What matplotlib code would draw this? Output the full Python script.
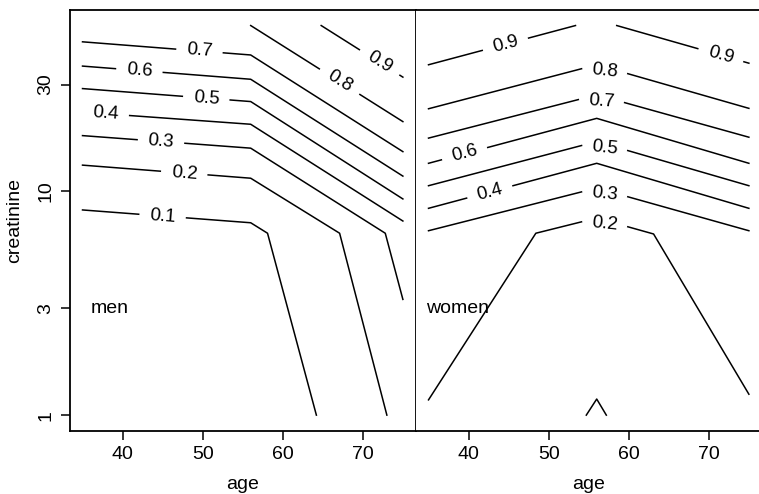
import numpy as np
import matplotlib
matplotlib.use("Agg")
import matplotlib.pyplot as plt

plt.rcParams["font.family"] = ["Liberation Sans", "DejaVu Sans"]

# ─── Contour lines (age, creatinine) ─────────────────────────────────────────
men_levels = ["0.1", "0.2", "0.3", "0.4", "0.5", "0.6", "0.7", "0.8", "0.9"]
men_ages = [
    [35, 56, 58.1, 64.2],
    [35, 56, 67.1, 73.0],
    [35, 56, 72.8, 75],
    [35, 56, 75],
    [35, 56, 75],
    [35, 56, 75],
    [35, 56, 75],
    [56, 75],
    [64.8, 75],
]
men_creat = [
    [8.26, 7.24, 6.5, 1.0],
    [13.1, 11.45, 6.5, 1.0],
    [17.75, 15.6, 6.5, 3.29],
    [22.6, 19.95, 7.37],
    [28.8, 25.2, 9.25],
    [36.3, 31.7, 11.7],
    [46.6, 40.7, 15.05],
    [55.1, 20.5],
    [55.1, 32.4],
]
men_label_age = [45.0, 47.7, 44.8, 37.9, 50.45, 42.1, 49.6, 67.1, 72.1]

women_levels = ["0.9", "0.9", "0.8", "0.7", "0.6", "0.5", "0.4", "0.3", "0.2", ""]
women_ages = [
    [35, 53.35],
    [58.5, 75],
    [35, 56, 75],
    [35, 56, 75],
    [35, 56, 75],
    [35, 56, 75],
    [35, 56, 75],
    [35, 56, 75],
    [35, 48.4, 56, 63.1, 75],
    [54.7, 56, 57.2],
]
women_creat = [
    [36.8, 55.1],
    [55.1, 37.4],
    [23.4, 36.8, 23.5],
    [17.3, 27.0, 17.46],
    [13.35, 21.2, 13.35],
    [10.6, 16.7, 10.6],
    [8.4, 13.35, 8.4],
    [6.67, 10.35, 6.67],
    [1.17, 6.5, 7.6, 6.45, 1.24],
    [1.0, 1.18, 1.0],
]
women_label_age = [44.6, 71.5, 57.0, 56.6, 39.5, 57.0, 42.65, 57.0, 57.0, None]

x_ticks = [40, 50, 60, 70]
y_ticks = [1, 3, 10, 30]

# ─── Figure ──────────────────────────────────────────────────────────────────
W, H = 759, 494
fig = plt.figure(figsize=(W / 100, H / 100), dpi=100)
ax1 = fig.add_axes([69.7 / W, 63.3 / H, 346 / W, 420.7 / H])
ax2 = fig.add_axes([415.7 / W, 63.3 / H, 346 / W, 420.7 / H])

tick_fs = 14
lab_fs = 13.5
gap_px = 48
lw = 1.1


def contour_line(ax, xs, ys, lab_x, text):
    """Draw a contour polyline with an R-style gap and rotated label."""
    pts = ax.transData.transform(np.column_stack([xs, ys]))
    if lab_x is None:
        ax.plot(xs, ys, color="black", linewidth=lw, zorder=3)
        return
    seg = np.hypot(np.diff(pts[:, 0]), np.diff(pts[:, 1]))
    cum = np.concatenate([[0.0], np.cumsum(seg)])
    s0 = np.interp(lab_x, xs, cum)
    a, b = s0 - gap_px / 2, s0 + gap_px / 2

    def at(s):
        return np.array([np.interp(s, cum, pts[:, 0]), np.interp(s, cum, pts[:, 1])])

    inv = ax.transData.inverted()
    pieces = []
    if a > 1.5:
        inner = [p for p, c in zip(pts, cum) if c < a]
        pieces.append(np.vstack(inner + [at(a)]))
    if b < cum[-1] - 1.5:
        inner = [p for p, c in zip(pts, cum) if c > b]
        pieces.append(np.vstack([at(b)] + inner))
    for pc in pieces:
        d = inv.transform(pc)
        ax.plot(d[:, 0], d[:, 1], color="black", linewidth=lw, zorder=3)

    pa, pb = at(max(a, 0)), at(min(b, cum[-1]))
    ang = np.degrees(np.arctan2(pb[1] - pa[1], pb[0] - pa[0]))
    mid = inv.transform(((at(a) + at(b)) / 2).reshape(1, 2))[0]
    ax.text(mid[0], mid[1], text, rotation=ang, rotation_mode="anchor",
            ha="center", va="center", fontsize=lab_fs, zorder=4)


for ax in (ax1, ax2):
    ax.set_yscale("log")
    ax.set_xlim(33.4, 76.6)
    ax.set_ylim(10 ** -0.0696, 10 ** 1.8106)
    ax.set_xticks(x_ticks)
    ax.set_xticklabels([str(t) for t in x_ticks])
    ax.minorticks_off()
    ax.tick_params(axis="both", direction="out", length=6.2, width=1.1,
                   labelsize=tick_fs, pad=5)
    for s in ax.spines.values():
        s.set_linewidth(1.3)
    ax.set_xlabel("age", fontsize=tick_fs, labelpad=9)

ax1.set_yticks(y_ticks)
ax1.set_yticklabels([str(t) for t in y_ticks], rotation=90, va="center")
ax1.set_ylabel("creatinine", fontsize=tick_fs, labelpad=10)
ax2.set_yticks([])
ax2.spines["left"].set_visible(False)

for xs, ys, lab, la in zip(men_ages, men_creat, men_levels, men_label_age):
    contour_line(ax1, xs, ys, la, lab)

for xs, ys, lab, la in zip(women_ages, women_creat, women_levels, women_label_age):
    contour_line(ax2, xs, ys, la, lab)

ax1.text(36, 3, "men", ha="left", va="center", fontsize=tick_fs)
ax2.text(34.7, 3, "women", ha="left", va="center", fontsize=tick_fs)

fig.savefig("out.png", dpi=100, facecolor="white")
